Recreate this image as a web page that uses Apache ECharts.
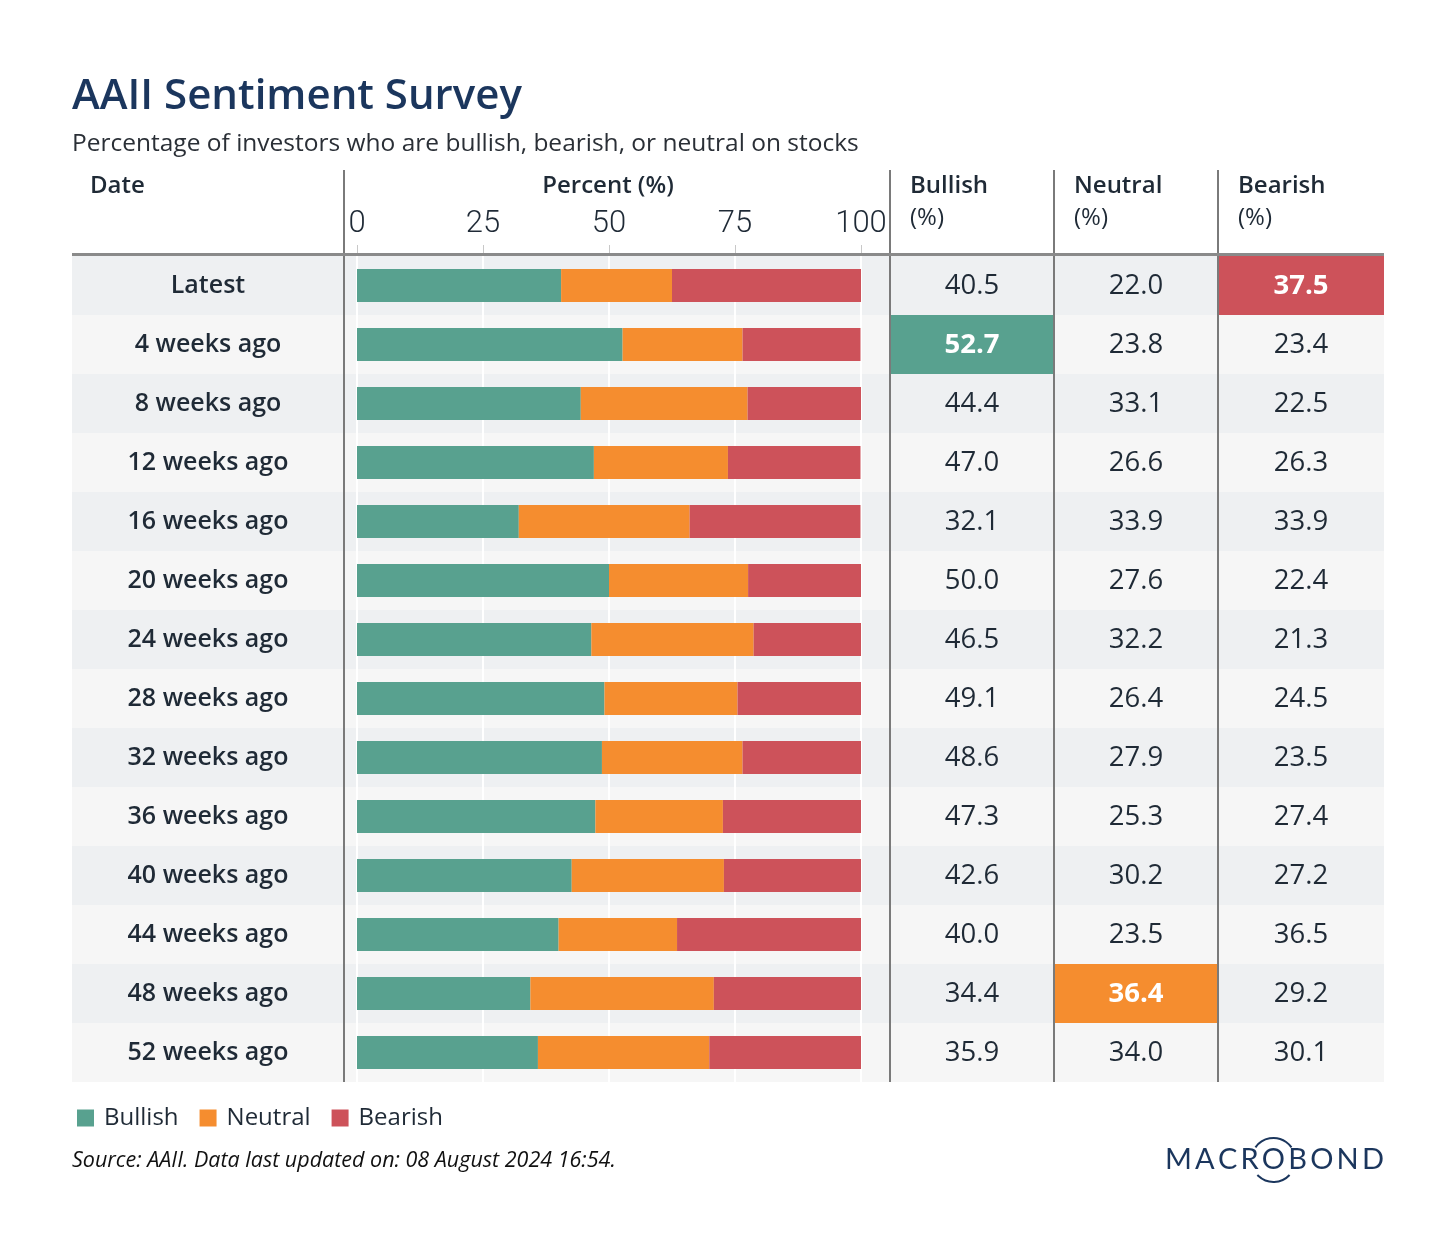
<!DOCTYPE html>
<html>
<head>
<meta charset="utf-8">
<script src="https://cdn.jsdelivr.net/npm/echarts@6/dist/echarts.min.js"></script>
<style>html,body{margin:0;padding:0;background:#fff;}#c{width:1456px;height:1255px;}</style>
</head>
<body>
<div id="c"></div>
<script>
const dates = ['Latest','4 weeks ago','8 weeks ago','12 weeks ago','16 weeks ago','20 weeks ago','24 weeks ago','28 weeks ago','32 weeks ago','36 weeks ago','40 weeks ago','44 weeks ago','48 weeks ago','52 weeks ago'];
const bullish = [40.5,52.7,44.4,47.0,32.1,50.0,46.5,49.1,48.6,47.3,42.6,40.0,34.4,35.9];
const neutral = [22.0,23.8,33.1,26.6,33.9,27.6,32.2,26.4,27.9,25.3,30.2,23.5,36.4,34.0];
const bearish = [37.5,23.4,22.5,26.3,33.9,22.4,21.3,24.5,23.5,27.4,27.2,36.5,29.2,30.1];
const seriesNames = ['Bullish','Neutral','Bearish'];
const percentTicks = [0,25,50,75,100];

const FONT = "'Open Sans', 'Noto Sans', sans-serif";
const TICKFONT = "Roboto, 'Noto Sans', sans-serif";
const COLORS = ['#58a18f','#f58d2f','#cd525a'];
const TXT = '#1f2a36';
const NAVY = '#1b365d';

const TOP = 256, ROWS_H = 59*14;

const chart = echarts.init(document.getElementById('c'), null, {renderer:'canvas'});

function valueColumn(gridIdx, arr, colorIdx) {
  const mx = Math.max.apply(null, arr);
  return {
    type: 'custom', xAxisIndex: gridIdx, yAxisIndex: gridIdx, z: 3,
    data: arr.map((v,i)=>[0.5, i, v]),
    encode: {x:0, y:1},
    renderItem: function(params, api){
      const i = api.value(1), v = api.value(2);
      const c = api.coord([0.5, i]);
      const h = api.size([0,1])[1];
      const cs = params.coordSys;
      const hl = v === mx;
      const children = [];
      if (hl) children.push({type:'rect', shape:{x:cs.x, y:c[1]-h/2, width:cs.width, height:h}, style:{fill:COLORS[colorIdx]}});
      children.push({type:'text', style:{text:v.toFixed(1), x:cs.x+cs.width/2, y:c[1]+1, align:'center', verticalAlign:'middle',
        font:(hl?'700 ':'400 ')+'27.5px '+FONT, fill: hl?'#ffffff':TXT}});
      return {type:'group', children};
    }
  };
}

const cats = dates;
function hiddenX(i){return {type:'value', gridIndex:i, min:0, max:1, show:false};}
function hiddenY(i){return {type:'category', gridIndex:i, data:cats, inverse:true, show:false};}

const option = {
  animation:false,
  backgroundColor:'#ffffff',
  textStyle:{fontFamily:FONT},
  grid:[
    {left:72, width:1312, top:TOP, height:ROWS_H},
    {left:357, width:504, top:TOP, height:ROWS_H},
    {left:890, width:164, top:TOP, height:ROWS_H},
    {left:1054, width:164, top:TOP, height:ROWS_H},
    {left:1218, width:166, top:TOP, height:ROWS_H}
  ],
  xAxis:[
    hiddenX(0),
    {type:'value', gridIndex:1, min:0, max:100, interval:25, position:'top',
      axisLine:{show:false},
      axisTick:{show:true, length:11, lineStyle:{color:'#c8c8c8', width:1}},
      axisLabel:{show:true, margin:16, fontFamily:TICKFONT, fontWeight:300, fontSize:31, color:TXT,
        customValues: percentTicks},
      splitLine:{show:true, lineStyle:{color:'#ffffff', width:2}}},
    hiddenX(2), hiddenX(3), hiddenX(4)
  ],
  yAxis:[
    hiddenY(0),
    {type:'category', gridIndex:1, data:cats, inverse:true,
      axisLine:{show:false}, axisTick:{show:false}, splitLine:{show:false},
      axisLabel:{show:true, margin:149, align:'center', fontFamily:FONT, fontWeight:600, fontSize:25, color:TXT}},
    hiddenY(2), hiddenY(3), hiddenY(4)
  ],
  legend:{
    left:72, top:1101, icon:'rect', itemWidth:17, itemHeight:17, itemGap:21,
    data:seriesNames,
    textStyle:{fontFamily:FONT, fontSize:24, color:TXT, padding:[0,0,0,5]}
  },
  series:[
    {type:'custom', name:'rows', xAxisIndex:0, yAxisIndex:0, z:-1, silent:true,
      data: dates.map((d,i)=>[0, i]), encode:{x:0,y:1},
      renderItem:function(params, api){
        const i = api.value(1);
        const c = api.coord([0, i]);
        const h = api.size([0,1])[1];
        const cs = params.coordSys;
        return {type:'rect', shape:{x:cs.x, y:c[1]-h/2, width:cs.width, height:h},
          style:{fill: i%2===0 ? '#eef0f2' : '#f6f6f6'}};
      }},
    {type:'bar', name:'Bullish', stack:'t', xAxisIndex:1, yAxisIndex:1, barWidth:33, data:bullish, itemStyle:{color:COLORS[0]}},
    {type:'bar', name:'Neutral', stack:'t', xAxisIndex:1, yAxisIndex:1, barWidth:33, data:neutral, itemStyle:{color:COLORS[1]}},
    {type:'bar', name:'Bearish', stack:'t', xAxisIndex:1, yAxisIndex:1, barWidth:33, data:bearish, itemStyle:{color:COLORS[2]}},
    valueColumn(2, bullish, 0),
    valueColumn(3, neutral, 1),
    valueColumn(4, bearish, 2)
  ],
  graphic:[]
};

const g = [];
// title + subtitle
g.push({type:'text', left:72, top:76, z:100, style:{text:'AAII Sentiment Survey', font:'600 42px '+FONT, fill:NAVY}});
g.push({type:'text', left:72, top:132, z:100, style:{text:'Percentage of investors who are bullish, bearish, or neutral on stocks', font:'400 24.5px '+FONT, fill:'#2a2f36'}});
// headers
g.push({type:'text', x:90, y:186, z:100, style:{text:'Date', font:'600 24px '+FONT, fill:TXT, verticalAlign:'middle'}});
g.push({type:'text', x:608, y:186, z:100, style:{text:'Percent (%)', font:'600 24px '+FONT, fill:TXT, align:'center', verticalAlign:'middle'}});
[[910,'Bullish'],[1074,'Neutral'],[1238,'Bearish']].forEach(function(h){
  g.push({type:'text', x:h[0], y:186, z:100, style:{text:h[1], font:'600 24px '+FONT, fill:TXT, verticalAlign:'middle'}});
  g.push({type:'text', x:h[0], y:218, z:100, style:{text:'(%)', font:'400 24px '+FONT, fill:TXT, verticalAlign:'middle'}});
});
// separators
[344, 890, 1054, 1218].forEach(function(x){
  g.push({type:'line', z:100, shape:{x1:x, y1:170, x2:x, y2:TOP+ROWS_H}, style:{stroke:'#7a7a7a', lineWidth:2}});
});
g.push({type:'line', z:101, shape:{x1:72, y1:254.5, x2:1384, y2:254.5}, style:{stroke:'#8a8a8a', lineWidth:3}});
// source
g.push({type:'text', x:72, y:1161, z:100, style:{text:'Source: AAII. Data last updated on: 08 August 2024 16:54.', font:'italic 400 21.5px '+FONT, fill:'#111', verticalAlign:'middle'}});
// logo: letters spread across 1165..1384
(function(){
  const word = 'MACROBOND';
  const lf = '400 29px Lato, ' + FONT;
  const ctx = document.createElement('canvas').getContext('2d');
  ctx.font = lf;
  const ws = word.split('').map(ch=>ctx.measureText(ch).width);
  const total = ws.reduce((a,b)=>a+b,0);
  const sp = (1384-1165-total)/(word.length-1);
  let x = 1165;
  word.split('').forEach(function(ch,i){
    g.push({type:'text', x:x, y:1160, z:100, style:{text:ch, font:lf, fill:NAVY, align:'left', verticalAlign:'middle'}});
    if (i===4) {
      const cx = x + ws[i]/2;
      g.push({type:'arc', z:100, shape:{cx:cx, cy:1160, r:22, startAngle:-Math.PI*145/180, endAngle:-Math.PI*35/180, clockwise:true}, style:{stroke:NAVY, lineWidth:2, fill:null}});
      g.push({type:'arc', z:100, shape:{cx:cx, cy:1160, r:22, startAngle:Math.PI*43/180, endAngle:Math.PI*137/180, clockwise:true}, style:{stroke:NAVY, lineWidth:2, fill:null}});
    }
    x += ws[i] + sp;
  });
})();
option.graphic = g;

chart.setOption(option);
</script>
</body>
</html>
